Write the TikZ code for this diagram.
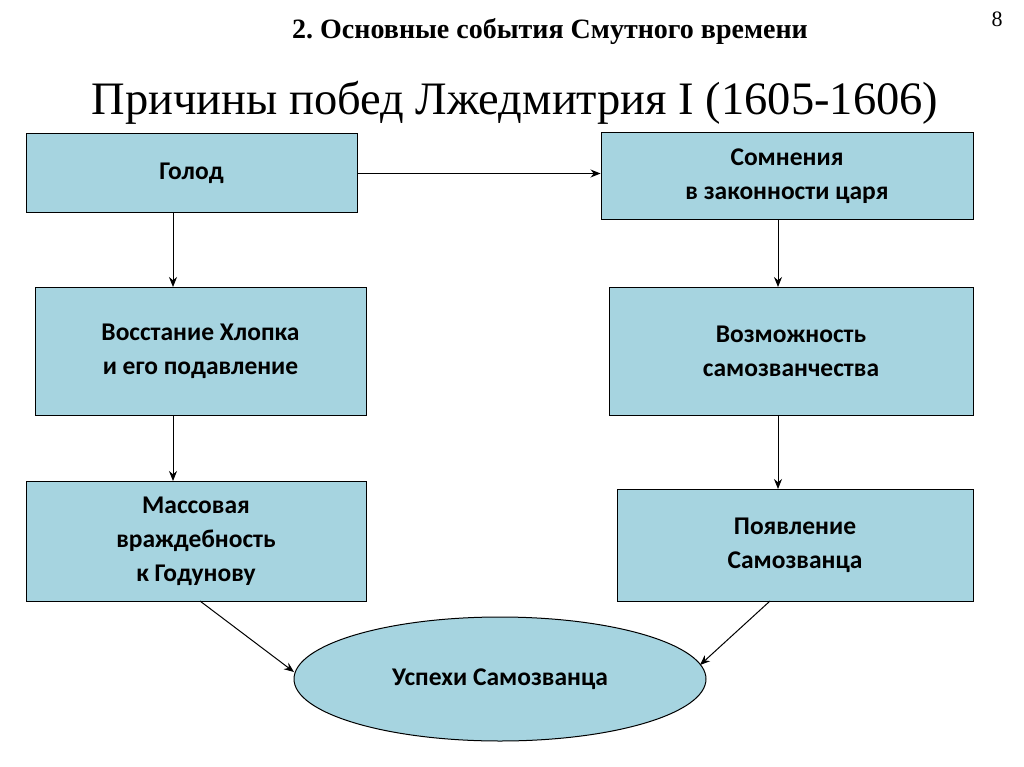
\documentclass[tikz,border=0pt]{standalone}
\usepackage{fontspec}
\setmainfont{Liberation Serif}
\newfontfamily\boxfont{Carlito}
\usetikzlibrary{shapes.geometric,arrows.meta}
\definecolor{boxfill}{RGB}{166,212,224}
\begin{document}
\begin{tikzpicture}[x=1pt,y=-1pt,
  bx/.style={draw=black,fill=boxfill,line width=1pt,align=center,font=\boxfont\bfseries\fontsize{25.5}{34}\selectfont},
  arr/.style={-{Stealth[length=10pt,width=8pt]},line width=1pt}]
\useasboundingbox (0,0) rectangle (1024,767);
\fill[white] (0,0) rectangle (1024,767);
\node (n8) at (997,19) {\fontsize{22}{24}\selectfont 8};
\node (t1) at (550,32) {\fontsize{28}{32}\selectfont\bfseries 2.\ Основные события Смутного времени};
\node (t2) at (515,103) {\fontsize{46.5}{52}\selectfont Причины побед Лжедмитрия I (1605-1606)};
\node[bx,minimum width=331,minimum height=79] (g) at (191.5,173.5) {Голод};
\node[bx,minimum width=372,minimum height=87] (s) at (787,176.5) {Сомнения\\в законности царя};
\node[bx,minimum width=331,minimum height=128] (v) at (200.5,351) {Восстание Хлопка\\и его подавление};
\node[bx,minimum width=364,minimum height=128] (z) at (791,351) {Возможность\\самозванчества};
\node[bx,minimum width=340,minimum height=120] (m) at (196,541) {Массовая\\враждебность\\к Годунову};
\node[bx,minimum width=356,minimum height=112] (p) at (795,545) {Появление\\Самозванца};
\node[bx,ellipse,minimum width=412,minimum height=124,inner sep=0] (u) at (500,679) {Успехи Самозванца};
\draw[arr] (g.east) -- (g.east -| s.west);
\draw[arr] (173,213) -- (173,287);
\draw[arr] (778,220) -- (778,287);
\draw[arr] (173,415) -- (173,481);
\draw[arr] (778,415) -- (778,489);
\draw[arr] (200,601) -- (294,672);
\draw[arr] (770,601) -- (700,665);
\end{tikzpicture}
\end{document}
